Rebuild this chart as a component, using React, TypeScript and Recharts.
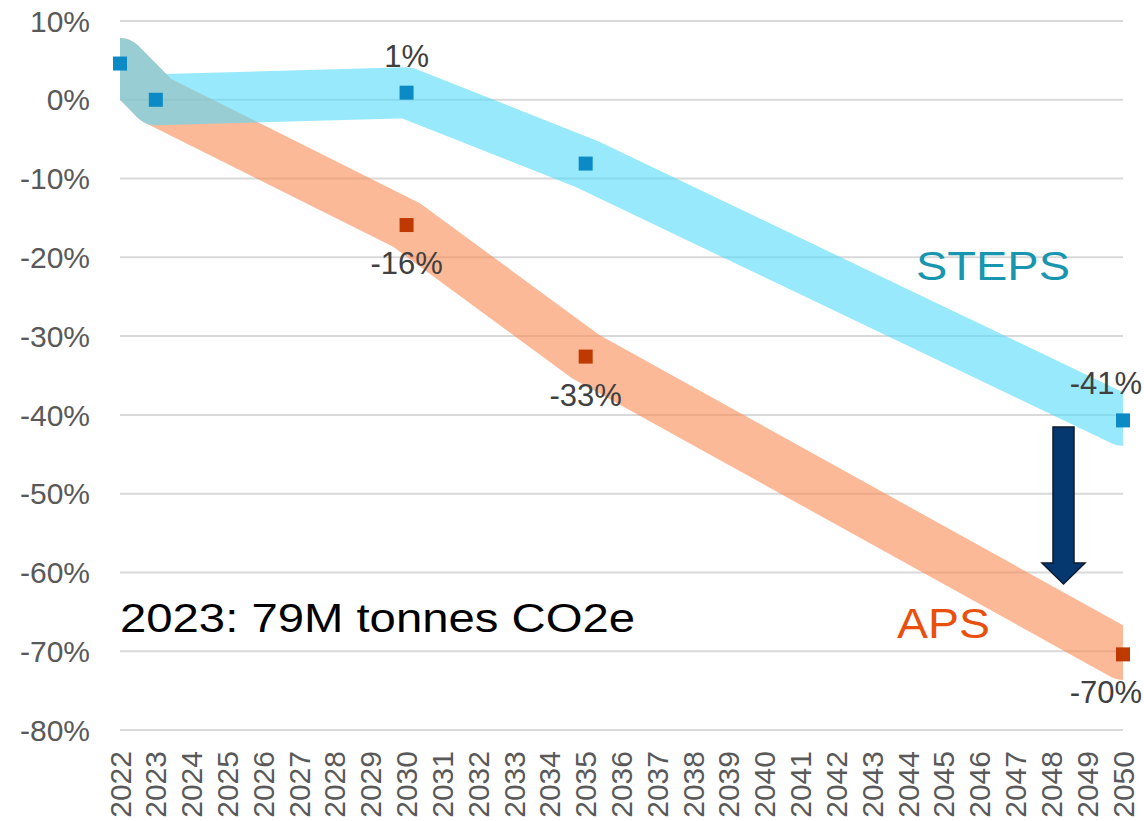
import React from 'react';
import { ComposedChart, Line, XAxis, YAxis, CartesianGrid, ReferenceDot } from 'recharts';

const years = [
  '2022', '2023', '2024', '2025', '2026', '2027', '2028', '2029', '2030', '2031',
  '2032', '2033', '2034', '2035', '2036', '2037', '2038', '2039', '2040', '2041',
  '2042', '2043', '2044', '2045', '2046', '2047', '2048', '2049', '2050',
];
const yTicks = [10, 0, -10, -20, -30, -40, -50, -60, -70, -80];

const stepsYears = ['2022', '2023', '2030', '2035', '2050'];
const stepsValues = [4.6, 0, 0.9, -8.1, -40.7];
const stepsLabels = ['', '', '1%', '', '-41%'];

const apsYears = ['2022', '2023', '2030', '2035', '2050'];
const apsValues = [4.6, 0, -15.9, -32.6, -70.4];
const apsMarkerYears = ['2030', '2035', '2050'];
const apsLabels = ['-16%', '-33%', '-70%'];

const FONT = '"Liberation Sans", Arial, sans-serif';
const W = 1144;
const H = 821;

const data = years.map((y) => {
  const si = stepsYears.indexOf(y);
  const ai = apsYears.indexOf(y);
  return {
    year: y,
    steps: si >= 0 ? stepsValues[si] : null,
    aps: ai >= 0 ? apsValues[ai] : null,
  };
});

const makeMarker = (color: string, label: string, pos: 'above' | 'below', anchorEnd: boolean) =>
  (props: any) => {
    const { cx, cy } = props;
    const s = 14;
    return (
      <g>
        <rect x={cx - s / 2} y={cy - s / 2} width={s} height={s} fill={color} />
        {label ? (
          <text
            x={anchorEnd ? cx + 19 : cx}
            y={pos === 'above' ? cy - 26 : cy + 49}
            textAnchor={anchorEnd ? 'end' : 'middle'}
            fontSize={31}
            fill="#404040"
            fontFamily={FONT}
          >
            {label}
          </text>
        ) : null}
      </g>
    );
  };

const XTick = (props: any) => {
  const { x, y, payload } = props;
  return (
    <text
      x={x}
      y={y}
      transform={`rotate(-90 ${x} ${y})`}
      textAnchor="end"
      dominantBaseline="central"
      fontSize={30}
      fill="#595959"
      fontFamily={FONT}
    >
      {payload.value}
    </text>
  );
};

export default function App() {
  const lastYear = years[years.length - 1];
  return (
    <div style={{ position: 'absolute', left: 0, top: 0, width: W, height: H, background: '#fff' }}>
      <ComposedChart width={W} height={H} data={data} margin={{ top: 21, right: 21, bottom: 0, left: 0 }}>
        <CartesianGrid vertical={false} stroke="#d9d9d9" strokeWidth={2} />
        <XAxis
          dataKey="year"
          allowDataOverflow
          interval={0}
          height={91}
          tickSize={0}
          tickMargin={21}
          axisLine={false}
          tickLine={false}
          tick={<XTick />}
        />
        <YAxis
          type="number"
          domain={[-80, 10]}
          ticks={yTicks}
          width={120}
          tickSize={0}
          tickMargin={30}
          axisLine={false}
          tickLine={false}
          tickFormatter={(v: number) => `${v}%`}
          tick={{ fontSize: 30, fill: '#595959', fontFamily: FONT }}
        />
        <Line
          dataKey="aps"
          stroke="rgb(248,138,83)"
          strokeOpacity={0.6}
          strokeWidth={51}
          strokeLinejoin="round"
          strokeLinecap="round"
          dot={false}
          connectNulls
          isAnimationActive={false}
        />
        <Line
          dataKey="steps"
          stroke="rgb(85,218,250)"
          strokeOpacity={0.6}
          strokeWidth={51}
          strokeLinejoin="round"
          strokeLinecap="round"
          dot={false}
          connectNulls
          isAnimationActive={false}
        />
        {stepsYears.map((y, i) => (
          <ReferenceDot
            key={'s' + y}
            x={y}
            y={stepsValues[i]}
            r={7}
            ifOverflow="visible"
            shape={makeMarker('#0B8AC5', stepsLabels[i], 'above', y === lastYear)}
          />
        ))}
        {apsMarkerYears.map((y, i) => (
          <ReferenceDot
            key={'a' + y}
            x={y}
            y={apsValues[apsYears.indexOf(y)]}
            r={7}
            ifOverflow="visible"
            shape={makeMarker('#BF3A00', apsLabels[i], 'below', y === lastYear)}
          />
        ))}
      </ComposedChart>
      <svg
        width={W}
        height={H}
        style={{ position: 'absolute', left: 0, top: 0, pointerEvents: 'none' }}
      >
        <text x={916} y={280} fontSize={40} fill="#1896B0" fontFamily={FONT} textLength={154} lengthAdjust="spacingAndGlyphs">
          STEPS
        </text>
        <text x={897} y={638} fontSize={42} fill="#E9500E" fontFamily={FONT} textLength={93} lengthAdjust="spacingAndGlyphs">
          APS
        </text>
        <text x={120} y={632} fontSize={40} fill="#000" fontFamily={FONT} textLength={515} lengthAdjust="spacingAndGlyphs">
          2023: 79M tonnes CO2e
        </text>
        <polygon
          points="1053,427 1074,427 1074,563 1085,563 1063.5,584 1042,563 1053,563"
          fill="#063870"
          stroke="#0c1a30"
          strokeWidth={1.5}
        />
      </svg>
    </div>
  );
}
